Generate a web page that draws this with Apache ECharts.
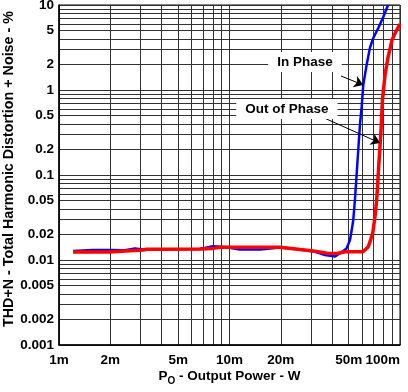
<!DOCTYPE html>
<html>
<head>
<meta charset="utf-8">
<script src="https://cdn.jsdelivr.net/npm/echarts@6.0.0/dist/echarts.min.js"></script>
<style>
html,body{margin:0;padding:0;background:#fff;}
#chart{width:408px;height:392px;}
</style>
</head>
<body>
<div id="chart"></div>
<script>
// ---- Data (Power in W, THD+N in %) ----
var inPhasePower = [0.00121, 0.00158, 0.00199, 0.00244, 0.00279, 0.00311, 0.00671, 0.0080, 0.0094, 0.0115, 0.0151, 0.0198, 0.0259, 0.0309, 0.0363, 0.0416, 0.0445, 0.0486, 0.0509, 0.0521, 0.0532, 0.0544, 0.0569, 0.0582, 0.0596, 0.0609, 0.0637, 0.0666, 0.0697, 0.0746, 0.0798, 0.0851];
var inPhaseThd   = [0.0128, 0.0131, 0.0131, 0.0130, 0.0137, 0.0133, 0.0135, 0.0145, 0.0142, 0.0133, 0.0133, 0.0140, 0.0133, 0.0127, 0.01145, 0.0110, 0.0120, 0.0137, 0.0172, 0.0225, 0.0296, 0.0508, 0.197, 0.387, 0.637, 1.15, 1.97, 3.12, 4.09, 5.36, 7.22, 10];

var outPhasePower = [0.00121, 0.00199, 0.00244, 0.00311, 0.00328, 0.00671, 0.0080, 0.00879, 0.0198, 0.0259, 0.0309, 0.0373, 0.0427, 0.0475, 0.0606, 0.0652, 0.0692, 0.0713, 0.0730, 0.0754, 0.0774, 0.0789, 0.0817, 0.0851, 0.0898, 0.0949, 0.1];
var outPhaseThd   = [0.0124, 0.0124, 0.0128, 0.0131, 0.0134, 0.0135, 0.0137, 0.0141, 0.0141, 0.0133, 0.0128, 0.0120, 0.0119, 0.0125, 0.0125, 0.0143, 0.0206, 0.0323, 0.0508, 0.150, 0.338, 0.763, 1.50, 2.44, 3.87, 4.94, 5.98];

// ---- Axis ticks / labels ----
var xGridValues = [0.001,0.002,0.003,0.004,0.005,0.006,0.007,0.008,0.009,0.01,0.02,0.03,0.04,0.05,0.06,0.07,0.08,0.09,0.1];
var xLabelValues = [0.001, 0.002, 0.005, 0.01, 0.02, 0.05, 0.1];
var xLabelTexts  = ['1m', '2m', '5m', '10m', '20m', '50m', '100m'];

var yGridValues = [0.001,0.002,0.003,0.004,0.005,0.006,0.007,0.008,0.009,0.01,0.02,0.03,0.04,0.05,0.06,0.07,0.08,0.09,0.1,0.2,0.3,0.4,0.5,0.6,0.7,0.8,0.9,1,2,3,4,5,6,7,8,9,10];
var yLabelValues = [0.001, 0.002, 0.005, 0.01, 0.02, 0.05, 0.1, 0.2, 0.5, 1, 2, 5, 10];
var yLabelTexts  = ['0.001', '0.002', '0.005', '0.01', '0.02', '0.05', '0.1', '0.2', '0.5', '1', '2', '5', '10'];

// ---- Annotations (data coordinates) ----
var inPhaseLabelAt  = [0.0277, 2.13];
var inPhaseArrow    = [[0.0451, 1.46], [0.0609, 1.146]];
var outPhaseLabelAt = [0.0217, 0.598];
var outPhaseArrow   = [[0.0349, 0.481], [0.0764, 0.238]];

function pairs(xs, ys) { return xs.map(function (x, i) { return [x, ys[i]]; }); }
function lookup(values, texts, v) {
  for (var i = 0; i < values.length; i++) {
    if (Math.abs(v - values[i]) / values[i] < 1e-6) return texts[i];
  }
  return '';
}

var FONT = '"Liberation Sans", Arial, sans-serif';
var gridLine = { show: true, lineStyle: { color: '#333', width: 1, type: 'solid' } };
var annLabel = {
  show: true, position: 'inside', formatter: '{b}', color: '#000',
  fontFamily: FONT, fontWeight: 'bold', fontSize: 13.5,
  backgroundColor: '#fff', padding: [3, 9]
};

var chart = echarts.init(document.getElementById('chart'), null, { renderer: 'canvas' });
chart.setOption({
  animation: false,
  backgroundColor: '#fff',
  grid: { left: 59, right: 8, top: 5, bottom: 47, containLabel: false, outerBoundsMode: 'none',
          show: true, borderColor: '#000', borderWidth: 1 },
  xAxis: {
    type: 'log', logBase: 10, min: 0.001, max: 0.1,
    name: 'P{sub|O} - Output Power - W',
    nameLocation: 'middle', nameGap: 22, nameMoveOverlap: false,
    nameTextStyle: {
      color: '#000', fontFamily: FONT, fontWeight: 'bold', fontSize: 13.5,
      rich: { sub: { fontFamily: FONT, fontWeight: 'bold', fontSize: 10, color: '#000', padding: [9, 0, 0, 0] } }
    },
    axisLine: { show: true, lineStyle: { color: '#000', width: 1.5 } },
    axisTick: { show: false, customValues: xGridValues },
    splitLine: gridLine,
    minorSplitLine: { show: false },
    axisLabel: {
      customValues: xLabelValues,
      formatter: function (v) { return lookup(xLabelValues, xLabelTexts, v); },
      color: '#000', fontFamily: FONT, fontWeight: 'bold', fontSize: 13.5, margin: 8,
      alignMaxLabel: 'right'
    }
  },
  yAxis: {
    type: 'log', logBase: 10, min: 0.001, max: 10,
    name: 'THD+N - Total Harmonic Distortion + Noise - %',
    nameLocation: 'middle', nameGap: 43, nameMoveOverlap: false,
    nameTextStyle: { color: '#000', fontFamily: FONT, fontWeight: 'bold', fontSize: 14.3, padding: [0, 0, 0, 12] },
    axisLine: { show: true, lineStyle: { color: '#000', width: 1.5 } },
    axisTick: { show: false, customValues: yGridValues },
    splitLine: gridLine,
    axisLabel: {
      customValues: yLabelValues,
      formatter: function (v) { return lookup(yLabelValues, yLabelTexts, v); },
      color: '#000', fontFamily: FONT, fontWeight: 'bold', fontSize: 13.5, margin: 5
    }
  },
  series: [
    {
      name: 'In Phase', type: 'line', data: pairs(inPhasePower, inPhaseThd),
      showSymbol: false, symbol: 'none', smooth: false,
      lineStyle: { color: '#0000ff', width: 2.5 }, itemStyle: { color: '#0000ff' },
      markPoint: {
        symbol: 'rect', symbolSize: 1, itemStyle: { color: 'rgba(0,0,0,0)' }, silent: true,
        label: annLabel,
        data: [{ name: 'In Phase', coord: inPhaseLabelAt }]
      },
      markLine: {
        silent: true, symbol: ['none', 'arrow'], symbolSize: 9,
        lineStyle: { color: '#000', width: 1, type: 'solid' }, label: { show: false },
        data: [[{ coord: inPhaseArrow[0] }, { coord: inPhaseArrow[1] }]]
      }
    },
    {
      name: 'Out of Phase', type: 'line', data: pairs(outPhasePower, outPhaseThd),
      showSymbol: false, symbol: 'none', smooth: false,
      lineStyle: { color: '#ff0000', width: 3.5 }, itemStyle: { color: '#ff0000' },
      markPoint: {
        symbol: 'rect', symbolSize: 1, itemStyle: { color: 'rgba(0,0,0,0)' }, silent: true,
        label: annLabel,
        data: [{ name: 'Out of Phase', coord: outPhaseLabelAt }]
      },
      markLine: {
        silent: true, symbol: ['none', 'arrow'], symbolSize: 9,
        lineStyle: { color: '#000', width: 1, type: 'solid' }, label: { show: false },
        data: [[{ coord: outPhaseArrow[0] }, { coord: outPhaseArrow[1] }]]
      }
    }
  ]
});
</script>
</body>
</html>
